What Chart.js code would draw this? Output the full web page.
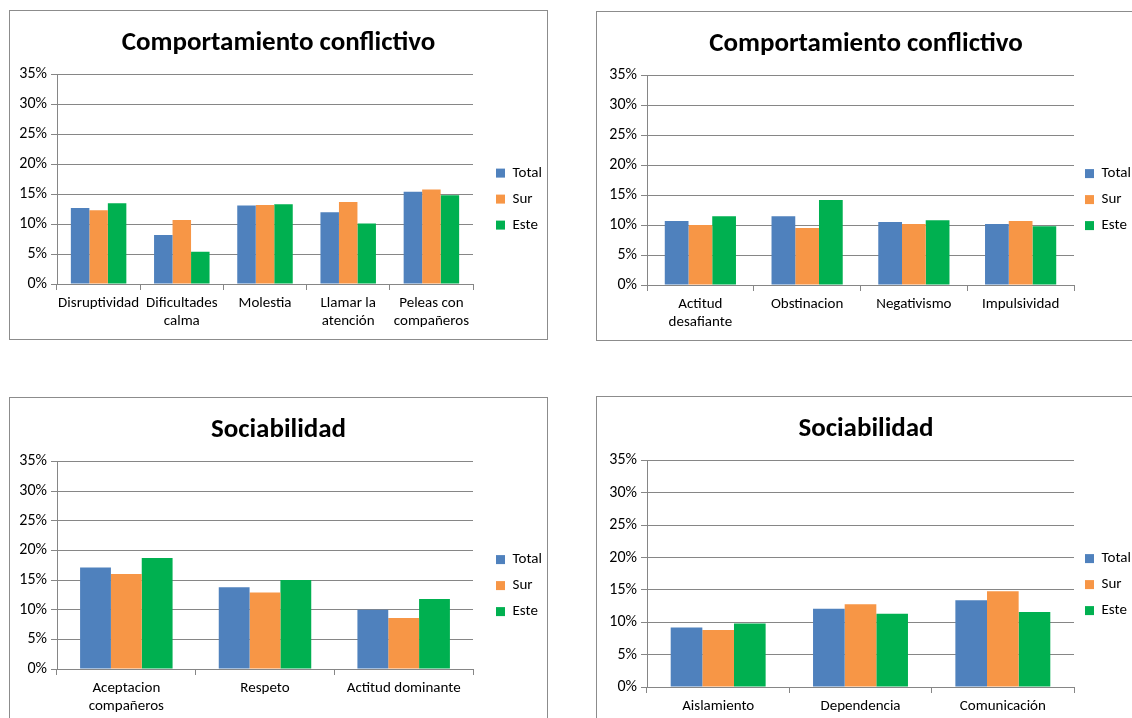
<!DOCTYPE html>
<html>
<head>
<meta charset="utf-8">
<script src="https://cdn.jsdelivr.net/npm/chart.js@4.4.1/dist/chart.umd.min.js"></script>
<style>
  body { margin: 0; background: #fff; width: 1132px; height: 718px; overflow: hidden; position: relative; }
  .box { position: absolute; box-sizing: border-box; border: 1px solid #8c8c8c; background: #fff; }
</style>
</head>
<body>
<div class="box" style="left:9px;top:10px;width:539px;height:330px"><canvas id="chart1"></canvas></div>
<div class="box" style="left:596px;top:11px;width:540px;height:330px"><canvas id="chart2"></canvas></div>
<div class="box" style="left:9px;top:397px;width:539px;height:330px"><canvas id="chart3"></canvas></div>
<div class="box" style="left:596px;top:396px;width:540px;height:340px"><canvas id="chart4"></canvas></div>
<script>
// series shared by all four charts
const seriesNames = ['Total', 'Sur', 'Este'];
const seriesColors = ['#4F81BD', '#F79646', '#00B050'];
const yTicks = [0, 5, 10, 15, 20, 25, 30, 35];

// Comportamiento conflictivo (1)
const conflict1Labels = ['Disruptividad', ['Dificultades', 'calma'], 'Molestia', ['Llamar la', 'atención'], ['Peleas con', 'compañeros']];
const conflict1Total = [12.7, 8.2, 13.1, 12.0, 15.4];
const conflict1Sur = [12.3, 10.7, 13.2, 13.7, 15.8];
const conflict1Este = [13.5, 5.4, 13.3, 10.1, 14.8];

// Comportamiento conflictivo (2)
const conflict2Labels = [['Actitud', 'desafiante'], 'Obstinacion', 'Negativismo', 'Impulsividad'];
const conflict2Total = [10.7, 11.5, 10.5, 10.2];
const conflict2Sur = [10.0, 9.5, 10.2, 10.7];
const conflict2Este = [11.5, 14.2, 10.8, 9.8];

// Sociabilidad (1)
const social1Labels = [['Aceptacion', 'compañeros'], 'Respeto', 'Actitud dominante'];
const social1Total = [17.1, 13.8, 10.0];
const social1Sur = [16.0, 12.9, 8.6];
const social1Este = [18.7, 15.0, 11.8];

// Sociabilidad (2)
const social2Labels = ['Aislamiento', 'Dependencia', 'Comunicación'];
const social2Total = [9.2, 12.1, 13.4];
const social2Sur = [8.8, 12.8, 14.8];
const social2Este = [9.8, 11.3, 11.6];

const FONT = 'Carlito, Lato, "Liberation Sans", sans-serif';
const GRID = '#868686';

// lay: xHeight = room under the plot, gap = extra space before the legend,
// legendW = legend width, legendShift = push legend items down
function makeChart(id, title, labels, values, lay) {
  const ctx = document.getElementById(id).getContext('2d');
  return new Chart(ctx, {
    type: 'bar',
    data: {
      labels: labels,
      datasets: values.map((v, i) => ({
        label: seriesNames[i],
        data: v,
        backgroundColor: seriesColors[i],
        borderWidth: 0,
        barPercentage: 1.0,
        categoryPercentage: 0.667
      }))
    },
    options: {
      responsive: true,
      maintainAspectRatio: false,
      animation: false,
      layout: { padding: 0 },
      plugins: {
        title: {
          display: true,
          text: title,
          color: '#000',
          font: { family: FONT, size: 27, weight: 'bold' },
          padding: { top: 16, bottom: 15 }
        },
        legend: {
          position: 'right',
          maxWidth: lay.legendW,
          title: { display: true, text: ' ', font: { size: 1 }, padding: { top: lay.legendShift, bottom: 0 } },
          labels: {
            boxWidth: 9,
            boxHeight: 9,
            padding: 11,
            color: '#000',
            font: { family: FONT, size: 15 }
          }
        },
        tooltip: { enabled: false }
      },
      scales: {
        x: {
          grid: { offset: true, drawOnChartArea: false, color: GRID, tickLength: 6 },
          border: { color: GRID },
          ticks: { color: '#000', maxRotation: 0, autoSkip: false, padding: 4, font: { family: FONT, size: 15 } },
          afterFit: s => { s.height = lay.xHeight; }
        },
        y: {
          min: 0,
          max: 35,
          afterBuildTicks: s => { s.ticks = yTicks.map(v => ({ value: v })); },
          grid: { color: GRID, tickLength: 6 },
          border: { color: GRID },
          ticks: { color: '#000', padding: 4, font: { family: FONT, size: 16 }, callback: v => v + '%' },
          afterFit: s => { s.width = lay.yWidth; }
        },
        yGap: {
          type: 'linear',
          axis: 'y',
          position: 'right',
          display: lay.gap > 0,
          grid: { display: false },
          border: { display: false },
          ticks: { display: false },
          afterFit: s => { s.width = lay.gap; }
        }
      }
    }
  });
}

makeChart('chart1', 'Comportamiento conflictivo', conflict1Labels,
  [conflict1Total, conflict1Sur, conflict1Este],
  { yWidth: 47, xHeight: 55, gap: 12, legendW: 62, legendShift: 47 });
makeChart('chart2', 'Comportamiento conflictivo', conflict2Labels,
  [conflict2Total, conflict2Sur, conflict2Este],
  { yWidth: 50, xHeight: 55, gap: 0, legendW: 61, legendShift: 46 });
makeChart('chart3', 'Sociabilidad', social1Labels,
  [social1Total, social1Sur, social1Este],
  { yWidth: 47, xHeight: 57, gap: 12, legendW: 62, legendShift: 46 });
makeChart('chart4', 'Sociabilidad', social2Labels,
  [social2Total, social2Sur, social2Este],
  { yWidth: 50, xHeight: 48, gap: 0, legendW: 61, legendShift: 36 });
</script>
</body>
</html>
